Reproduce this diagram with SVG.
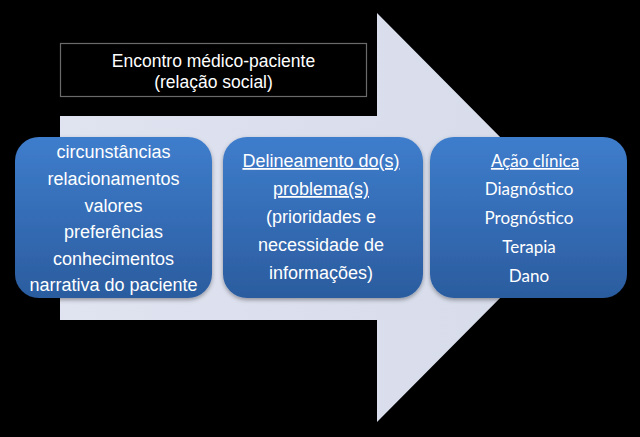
<svg xmlns="http://www.w3.org/2000/svg" width="640" height="437" viewBox="0 0 640 437">
<defs>
<linearGradient id="blue" x1="0" y1="0" x2="0" y2="1">
<stop offset="0" stop-color="#3e7dcc"/>
<stop offset="1" stop-color="#2b5c9f"/>
</linearGradient>
<linearGradient id="arrowFill" x1="0" y1="0" x2="1" y2="0">
<stop offset="0" stop-color="#e0e3f0"/>
<stop offset="1" stop-color="#d6dbea"/>
</linearGradient>
<filter id="sh" x="-10%" y="-10%" width="120%" height="125%">
<feDropShadow dx="0" dy="2" stdDeviation="2" flood-color="#000" flood-opacity="0.35"/>
</filter>
</defs>
<style>
.box{fill:url(#blue);filter:url(#sh);}
.t{font-family:"Liberation Sans",Arial,sans-serif;font-size:18px;fill:#ffffff;text-anchor:middle;}
.c{font-family:Lato,"Open Sans",sans-serif;font-size:17px;fill:#ffffff;text-anchor:middle;}
.top{font-family:"Liberation Sans",Arial,sans-serif;font-size:17.5px;fill:#ffffff;text-anchor:middle;}
.u{text-decoration:underline;}
</style>
<rect width="640" height="437" fill="#000000"/>
<g id="arrow">
<polygon points="60,116 377,116 377,13 580,217.5 377,422 377,320 60,320" fill="url(#arrowFill)"/>
</g>
<g id="header">
<rect x="60.5" y="43.5" width="306" height="53" fill="#000000" stroke="#6a6a6a" stroke-width="1.2"/>
<text class="top" x="213.5" y="67">Encontro médico-paciente</text>
<text class="top" x="213.5" y="88">(relação social)</text>
</g>
<g id="connectors"></g>
<g id="node1">
<rect class="box" x="15" y="137" width="197" height="161" rx="24" ry="24"/>
<text class="t" x="113.5" y="158">circunstâncias</text>
<text class="t" x="113.5" y="185">relacionamentos</text>
<text class="t" x="113.5" y="212">valores</text>
<text class="t" x="113.5" y="238">preferências</text>
<text class="t" x="113.5" y="265">conhecimentos</text>
<text class="t" x="113.5" y="291">narrativa do paciente</text>
</g>
<g id="node2">
<rect class="box" x="223" y="137" width="200" height="161" rx="24" ry="24"/>
<text class="t u" x="321" y="167">Delineamento do(s)</text>
<text class="t u" x="321" y="195">problema(s)</text>
<text class="t" x="321" y="223">(prioridades e</text>
<text class="t" x="321" y="251">necessidade de</text>
<text class="t" x="321" y="279">informações)</text>
</g>
<g id="node3">
<rect class="box" x="430" y="137" width="197" height="161" rx="24" ry="24"/>
<text class="c u" x="535" y="167">Ação clínica</text>
<text class="c" x="529" y="195">Diagnóstico</text>
<text class="c" x="529" y="224">Prognóstico</text>
<text class="c" x="529" y="253">Terapia</text>
<text class="c" x="529" y="282">Dano</text>
</g>
</svg>
